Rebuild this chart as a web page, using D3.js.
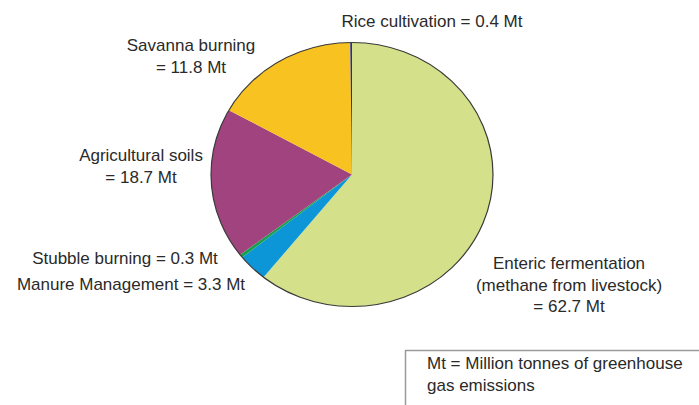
<!DOCTYPE html>
<html lang="en">
<head>
<meta charset="UTF-8">
<script src="https://d3js.org/d3.v7.min.js"></script>
<style>
  body { margin: 0; background: #fff; }
  text { font-family: Arial, "Liberation Sans", sans-serif; fill: #2a2a2a; }
</style>
</head>
<body>
<div id="chart"></div>
<script>
// sources, clockwise from 12 o'clock
var sources = ["Enteric fermentation", "Manure Management", "Stubble burning",
               "Agricultural soils", "Savanna burning", "Rice cultivation"];
// labelled emissions, Mt
var emissions = [62.7, 3.3, 0.3, 18.7, 11.8, 0.4];
// share of the circle each wedge covers in the picture (%)
var drawnShare = [60.8, 3.4, 0.4, 18.5, 16.7, 0.2];
var colors = ["#d4e08a", "#0c96d8", "#17a04e", "#a1437f", "#f8c320", "#262e8e"];

// label lines, one list per source
var labelLines = [
  ["Enteric fermentation", "(methane from livestock)", "= " + emissions[0] + " Mt"],
  ["Manure Management = " + emissions[1] + " Mt"],
  ["Stubble burning = " + emissions[2] + " Mt"],
  ["Agricultural soils", "= " + emissions[3] + " Mt"],
  ["Savanna burning", "= " + emissions[4] + " Mt"],
  ["Rice cultivation = " + emissions[5] + " Mt"]
];
var labelPos = [[569, 269], [131, 290], [125, 264], [141, 161], [191, 51], [432, 27]];
var noteLines = ["Mt = Million tonnes of greenhouse", "gas emissions"];

var width = 699, height = 405;
var cx = 352, cy = 174.5, rx = 141, ry = 132;

var svg = d3.select("#chart").append("svg")
    .attr("width", width)
    .attr("height", height);

var pie = d3.pie().sort(null).value(function (d) { return d; });
var arc = d3.arc().innerRadius(0).outerRadius(rx);

var g = svg.append("g")
    .attr("transform", "translate(" + cx + "," + cy + ") scale(1," + (ry / rx) + ")");

g.selectAll("path.slice")
    .data(pie(drawnShare))
    .enter().append("path")
    .attr("class", "slice")
    .attr("d", arc)
    .attr("fill", function (d, i) { return colors[i]; });

g.append("circle")
    .attr("r", rx)
    .attr("fill", "none")
    .attr("stroke", "#3a3a3a")
    .attr("stroke-width", 1.2)
    .attr("vector-effect", "non-scaling-stroke");

// labels
var labels = svg.selectAll("text.lab")
    .data(labelLines)
    .enter().append("text")
    .attr("class", "lab")
    .attr("text-anchor", "middle")
    .style("font-size", "17px")
    .attr("transform", function (d, i) { return "translate(" + labelPos[i][0] + "," + labelPos[i][1] + ")"; });

labels.selectAll("tspan")
    .data(function (d) { return d; })
    .enter().append("tspan")
    .attr("x", 0)
    .attr("y", function (d, i) { return i * 21.5; })
    .text(function (d) { return d; });

// note box
svg.append("rect")
    .attr("x", 405.5)
    .attr("y", 350.5)
    .attr("width", 320)
    .attr("height", 80)
    .attr("fill", "#fff")
    .attr("stroke", "#9a9a9a")
    .attr("stroke-width", 1.5);

svg.append("text")
    .style("font-size", "17px")
    .selectAll("tspan")
    .data(noteLines)
    .enter().append("tspan")
    .attr("x", 427)
    .attr("y", function (d, i) { return 369 + i * 22; })
    .text(function (d) { return d; });
</script>
</body>
</html>
